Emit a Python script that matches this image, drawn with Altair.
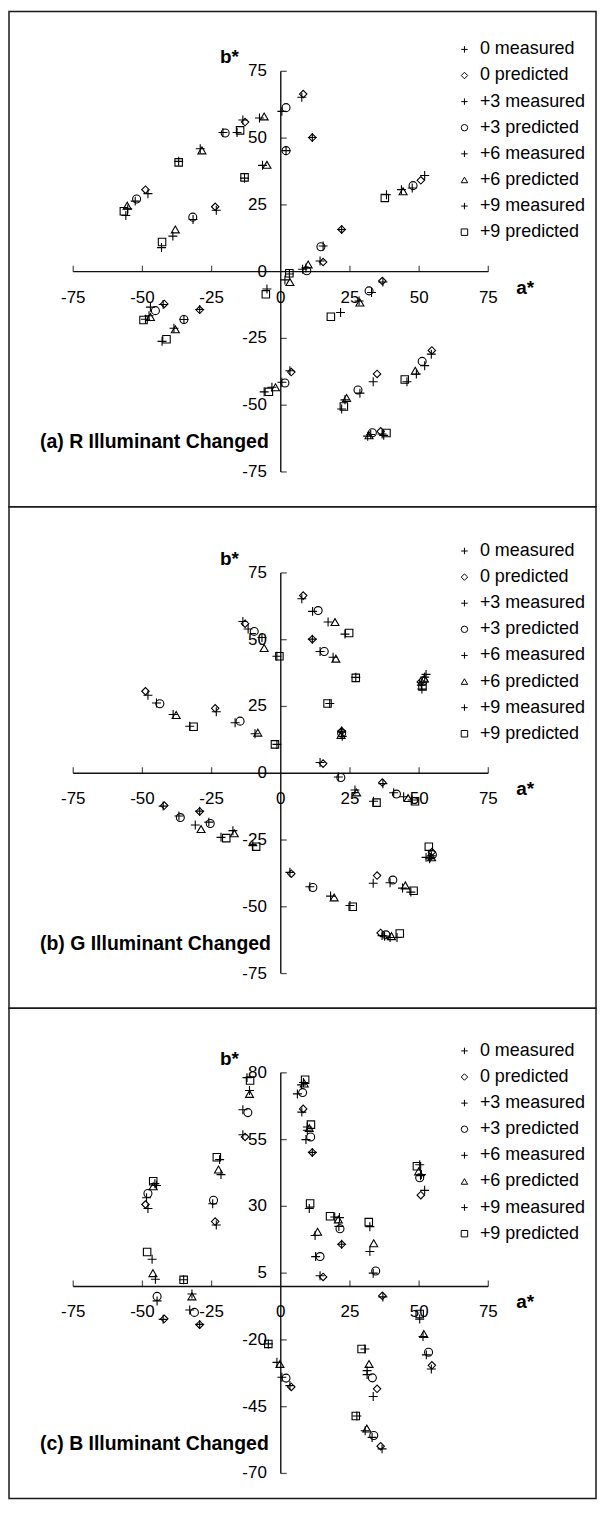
import altair as alt
import pandas as pd

FONT = "Liberation Sans"
INK = "#111111"

SERIES = ["0 measured", "0 predicted", "+3 measured", "+3 predicted",
          "+6 measured", "+6 predicted", "+9 measured", "+9 predicted"]
PLUS = "M-1,0H1M0,-1V1"
SHAPES = [PLUS, "diamond", PLUS, "circle", PLUS, "triangle-up", PLUS, "square"]
# marker groups: (series drawn, marker size)
GROUPS = [(["0 measured", "+3 measured", "+6 measured", "+9 measured"], 81),
          (["0 predicted"], 56), (["+3 predicted"], 64),
          (["+6 predicted"], 64), (["+9 predicted"], 56)]

X_TICKS = [-75, -50, -25, 0, 25, 50, 75]
Y_TICKS_AB = [-75, -50, -25, 0, 25, 50, 75]
Y_TICKS_C = [-70, -45, -20, 5, 30, 55, 80]

# 15 colour samples; (a*, b*) pairs, same order in every list
MEAS0 = [(-48.0, 29.2), (-23.3, 23.0), (-13.7, 56.8), (7.6, 65.3), (11.4, 50.2),
         (22.0, 15.8), (14.2, 4.0), (36.9, -3.9), (-42.5, -12.3), (-29.3, -14.2),
         (3.3, -37.1), (54.4, -30.9), (33.4, -41.2), (36.6, -60.8), (52.0, 36.0)]
PRED0 = [(-48.9, 30.7), (-23.7, 24.3), (-12.9, 56.0), (8.1, 66.5), (11.4, 50.2),
         (22.0, 15.8), (15.3, 3.6), (36.7, -3.5), (-42.1, -12.1), (-29.3, -14.3),
         (3.8, -37.6), (54.6, -29.5), (34.8, -38.3), (36.1, -59.8), (50.6, 34.2)]

# (a) R illuminant changed
R_MEAS3 = [(-52.6, 26.4), (-31.7, 19.5), (-20.9, 52.1), (0.4, 60.0), (1.9, 45.3),
           (15.3, 9.6), (7.9, 0.9), (32.8, -7.8), (-47.1, -13.3), (-35.0, -17.9),
           (0.4, -41.4), (52.0, -35.2), (28.6, -45.5), (32.5, -61.0), (47.5, 31.3)]
R_PRED3 = [(-52.1, 27.2), (-31.8, 20.4), (-20.1, 51.9), (1.9, 61.4), (1.9, 45.3),
           (14.5, 9.3), (9.4, 0.3), (31.9, -7.2), (-45.3, -14.6), (-35.0, -17.9),
           (1.5, -41.7), (51.1, -33.6), (27.9, -44.3), (33.1, -60.3), (47.8, 32.2)]
R_MEAS6 = [(-55.3, 23.5), (-39.0, 13.3), (-29.1, 46.0), (-7.7, 57.5), (-6.6, 39.8),
           (9.1, 1.4), (1.5, -3.1), (28.3, -11.0), (-47.6, -16.5), (-38.6, -21.2),
           (-3.2, -43.3), (49.0, -38.3), (23.2, -48.0), (31.4, -61.6), (43.6, 30.7)]
R_PRED6 = [(-55.5, 24.7), (-38.1, 15.8), (-28.5, 45.4), (-6.0, 58.1), (-5.0, 40.0),
           (9.9, 2.7), (3.3, -3.9), (28.6, -11.6), (-47.1, -17.0), (-38.1, -21.6),
           (-1.9, -43.3), (48.6, -37.1), (23.8, -47.3), (31.9, -61.3), (44.2, 30.1)]
R_MEAS9 = [(-56.0, 21.0), (-43.1, 9.0), (-36.9, 41.3), (-15.8, 52.1), (-13.1, 35.0),
           (3.1, -0.9), (-5.0, -6.5), (21.6, -15.3), (-48.9, -17.8), (-42.9, -26.1),
           (-6.0, -45.0), (45.6, -41.2), (22.0, -51.4), (37.2, -61.3), (38.2, 28.8)]
R_PRED9 = [(-56.7, 22.6), (-42.9, 11.1), (-36.9, 40.9), (-14.7, 52.9), (-13.1, 35.3),
           (3.1, -0.6), (-5.4, -8.5), (18.1, -16.9), (-49.6, -18.1), (-41.3, -25.3),
           (-4.3, -45.0), (44.8, -40.4), (22.8, -50.5), (38.2, -60.4), (37.6, 27.6)]

# (b) G illuminant changed
G_MEAS3 = [(-44.9, 26.3), (-16.5, 18.9), (-11.8, 54.0), (11.5, 60.6), (14.2, 45.6),
           (22.0, 15.5), (20.8, -1.4), (40.8, -7.3), (-36.8, -16.0), (-26.0, -18.3),
           (10.5, -42.5), (54.0, -31.5), (39.5, -41.0), (37.5, -61.0), (52.5, 37.0)]
G_PRED3 = [(-43.7, 26.0), (-14.7, 19.5), (-9.6, 53.1), (13.5, 60.9), (15.7, 45.6),
           (22.0, 15.0), (21.7, -1.6), (41.8, -7.8), (-36.3, -16.6), (-25.5, -18.8),
           (11.6, -42.8), (54.8, -30.5), (40.5, -40.0), (38.0, -60.5), (51.5, 34.5)]
G_MEAS6 = [(-38.9, 22.0), (-9.3, 14.8), (-6.8, 50.8), (17.1, 56.6), (18.9, 43.4),
           (22.2, 13.8), (26.8, -6.3), (44.4, -8.8), (-30.9, -19.4), (-17.3, -21.5),
           (18.0, -46.0), (53.8, -32.0), (44.0, -43.0), (39.5, -61.5), (51.0, 31.5)]
G_PRED6 = [(-37.8, 21.8), (-8.3, 15.2), (-6.0, 46.9), (19.6, 56.6), (19.9, 42.9),
           (21.8, 14.3), (27.4, -7.2), (46.0, -9.3), (-28.8, -20.9), (-16.8, -22.5),
           (19.3, -46.5), (54.5, -31.5), (45.0, -42.0), (40.0, -61.0), (51.9, 35.5)]
G_MEAS9 = [(-32.9, 17.6), (-1.4, 10.8), (-1.4, 43.8), (23.2, 52.1), (27.1, 35.9),
           (17.7, 26.1), (33.5, -10.5), (47.5, -10.0), (-21.6, -24.0), (-10.1, -27.1),
           (25.0, -49.5), (52.5, -31.5), (47.0, -44.5), (42.0, -61.5), (50.8, 33.0)]
G_PRED9 = [(-31.5, 17.4), (-2.1, 10.8), (-0.5, 43.8), (24.7, 52.5), (27.1, 35.7),
           (16.9, 26.1), (34.6, -11.0), (48.5, -10.5), (-19.7, -24.3), (-8.9, -27.5),
           (26.0, -50.0), (53.5, -27.5), (48.0, -44.0), (43.0, -60.0), (51.2, 32.5)]

# (c) B illuminant changed
B_MEAS3 = [(-48.5, 33.2), (-24.6, 31.0), (-13.7, 66.2), (6.0, 72.1), (9.1, 55.0),
           (21.0, 22.5), (12.6, 11.2), (33.4, 5.0), (-44.7, -5.4), (-32.9, -8.8),
           (0.4, -34.0), (52.6, -25.6), (31.2, -33.0), (33.0, -56.5), (50.5, 41.5)]
B_PRED3 = [(-48.0, 34.8), (-24.3, 32.3), (-11.9, 65.1), (7.9, 72.6), (10.8, 56.0),
           (21.4, 21.6), (14.2, 11.2), (34.3, 5.8), (-44.7, -3.7), (-31.2, -9.7),
           (1.9, -34.3), (53.4, -24.6), (33.1, -34.2), (33.6, -55.8), (50.2, 40.7)]
B_MEAS6 = [(-44.9, 37.8), (-21.6, 41.9), (-11.3, 73.4), (7.5, 75.5), (9.6, 58.5),
           (21.2, 25.8), (12.4, 19.1), (32.2, 13.1), (-45.3, 2.7), (-32.1, -2.8),
           (-1.4, -28.4), (51.4, -18.7), (31.2, -31.5), (30.5, -54.0), (50.8, 41.9)]
B_PRED6 = [(-46.1, 37.5), (-22.5, 43.8), (-11.3, 72.1), (8.5, 76.0), (10.3, 59.3),
           (20.8, 25.1), (13.3, 20.5), (33.6, 16.2), (-46.2, 5.0), (-32.1, -3.7),
           (-0.3, -29.0), (51.7, -17.8), (31.9, -29.0), (31.1, -53.2), (49.8, 43.1)]
B_MEAS9 = [(-45.5, 38.5), (-22.1, 47.5), (-12.2, 78.2), (8.2, 76.4), (9.6, 59.7),
           (19.5, 26.0), (10.3, 29.2), (32.2, 22.4), (-46.5, 10.2), (-35.1, 2.5),
           (-4.5, -21.5), (50.2, -12.2), (30.4, -23.4), (27.5, -48.5), (50.2, 45.6)]
B_PRED9 = [(-46.1, 39.4), (-23.1, 48.4), (-11.1, 77.1), (8.8, 77.4), (10.9, 60.6),
           (17.8, 26.3), (10.6, 31.1), (31.8, 24.1), (-48.3, 12.9), (-35.1, 2.5),
           (-4.5, -21.5), (50.2, -10.3), (29.2, -23.4), (27.1, -48.5), (49.2, 45.0)]

TITLES = ["(a) R Illuminant Changed", "(b) G Illuminant Changed", "(c) B Illuminant Changed"]

# ---- layout constants (pixels / data units) ----
W = 589
HEIGHTS = [497, 503, 492]
PX_A = 2.7767          # px per a* unit
PX_B = 2.68            # px per b* unit
ZERO_X = 272.7         # view x of a* = 0
ZERO_Y = [261.0, 267.3, 279.3]  # view y of b* = 0 in each panel


def panel(title, lists, yticks, height, zero_y):
    xdom = [-ZERO_X / PX_A, (W - ZERO_X) / PX_A]
    ydom = [-(height - zero_y) / PX_B, zero_y / PX_B]
    xs = alt.Scale(domain=xdom, nice=False, zero=False)
    ys = alt.Scale(domain=ydom, nice=False, zero=False)
    X = alt.X("a:Q", scale=xs, axis=None)
    Y = alt.Y("b:Q", scale=ys, axis=None)

    rows = []
    for name, pts in zip(SERIES, lists):
        for a, b in pts:
            rows.append({"a": a, "b": b, "series": name})
    pts_df = pd.DataFrame(rows)

    ytop = yticks[-1]
    top_px = zero_y - ytop * PX_B
    legend_y = top_px - 22 - 9

    shape_enc = alt.Shape(
        "series:N", scale=alt.Scale(domain=SERIES, range=SHAPES),
        legend=alt.Legend(title=None, orient="none", legendX=448, legendY=legend_y,
                          labelFont=FONT, labelFontSize=18, labelColor="black",
                          symbolSize=42, symbolStrokeWidth=1.0,
                          symbolStrokeColor="black", symbolFillColor="white",
                          rowPadding=8.2, labelOffset=6.5, padding=0))

    point_layers = []
    for names, size in GROUPS:
        point_layers.append(
            alt.Chart(pts_df).transform_filter(
                alt.FieldOneOfPredicate(field="series", oneOf=names)
            ).mark_point(filled=False, strokeWidth=1.1, color="black", size=size, opacity=1).encode(
                x=X, y=Y, shape=shape_enc))

    axes_df = pd.DataFrame({"a": [X_TICKS[0], 0], "a2": [X_TICKS[-1], 0],
                            "b": [0, yticks[0]], "b2": [0, yticks[-1]]})
    axes = alt.Chart(axes_df).mark_rule(color=INK, strokeWidth=1.4).encode(
        x=X, x2="a2:Q", y=Y, y2="b2:Q")

    xt_df = pd.DataFrame({"a": [t for t in X_TICKS if t != 0], "b": 0})
    xticks = alt.Chart(xt_df).mark_tick(orient="vertical", size=6, thickness=1.3,
                                        color=INK, yOffset=-3).encode(x=X, y=Y)
    yt_df = pd.DataFrame({"a": 0, "b": [t for t in yticks if t != 0]})
    yticks_m = alt.Chart(yt_df).mark_tick(orient="horizontal", size=6, thickness=1.3,
                                          color=INK, xOffset=3).encode(x=X, y=Y)

    xl_df = pd.DataFrame({"a": X_TICKS, "b": 0, "t": [str(t) for t in X_TICKS]})
    xlabels = alt.Chart(xl_df).mark_text(font=FONT, fontSize=17, color="black", dy=26,
                                         align="center", baseline="middle").encode(
        x=X, y=Y, text="t:N")
    yl_df = pd.DataFrame({"a": 0, "b": yticks, "t": [str(t) for t in yticks]})
    ylabels = alt.Chart(yl_df).mark_text(font=FONT, fontSize=17, color="black", dx=-14,
                                         align="right", baseline="middle").encode(
        x=X, y=Y, text="t:N")

    ax_df = pd.DataFrame({"a": [X_TICKS[-1]], "b": [0], "t": ["a*"]})
    a_title = alt.Chart(ax_df).mark_text(font=FONT, fontSize=19, fontWeight="bold", color="black",
                                         dx=37, dy=16, align="center", baseline="middle").encode(
        x=X, y=Y, text="t:N")
    by_df = pd.DataFrame({"a": [0], "b": [ytop], "t": ["b*"]})
    b_title = alt.Chart(by_df).mark_text(font=FONT, fontSize=19, fontWeight="bold", color="black",
                                         dx=-51.5, dy=-14, align="center", baseline="middle").encode(
        x=X, y=Y, text="t:N")

    t_df = pd.DataFrame({"a": [-87.0], "b": [ytop - 138.8], "t": [title]})
    title_m = alt.Chart(t_df).mark_text(font=FONT, fontSize=19.5, fontWeight="bold", color="black",
                                        align="left", baseline="middle").encode(
        x=X, y=Y, text="t:N")

    return alt.layer(axes, xticks, yticks_m, xlabels, ylabels, a_title, b_title, title_m,
                     *point_layers).properties(width=W, height=height)


p1 = panel(TITLES[0], [MEAS0, PRED0, R_MEAS3, R_PRED3, R_MEAS6, R_PRED6, R_MEAS9, R_PRED9],
           Y_TICKS_AB, HEIGHTS[0], ZERO_Y[0])
p2 = panel(TITLES[1], [MEAS0, PRED0, G_MEAS3, G_PRED3, G_MEAS6, G_PRED6, G_MEAS9, G_PRED9],
           Y_TICKS_AB, HEIGHTS[1], ZERO_Y[1])
p3 = panel(TITLES[2], [MEAS0, PRED0, B_MEAS3, B_PRED3, B_MEAS6, B_PRED6, B_MEAS9, B_PRED9],
           Y_TICKS_C, HEIGHTS[2], ZERO_Y[2])

chart = alt.vconcat(p1, p2, p3, spacing=0, bounds="flush").resolve_scale(
    shape="independent", x="independent", y="independent"
).resolve_legend(shape="independent").configure_view(
    stroke="#1a1a1a", strokeWidth=1.5
).properties(padding=0, background="white")

chart.save("out.html", embed_options={"renderer": "svg", "actions": False})
